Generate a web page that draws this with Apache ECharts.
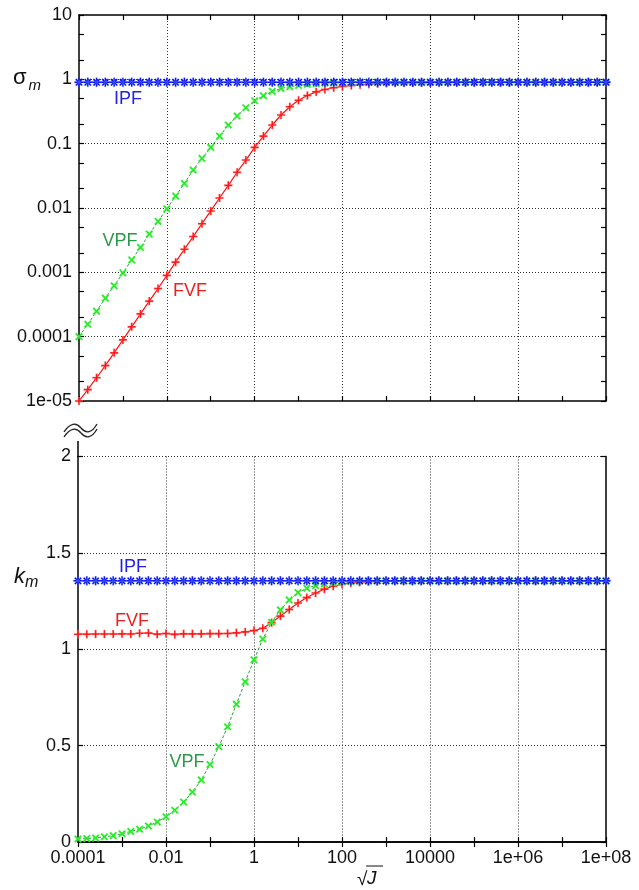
<!DOCTYPE html>
<html>
<head>
<meta charset="utf-8">
<script src="https://cdn.jsdelivr.net/npm/echarts@6/dist/echarts.min.js"></script>
<style>
html,body{margin:0;padding:0;background:#fff;}
#chart{width:639px;height:890px;}
</style>
</head>
<body>
<div id="chart"></div>
<script>
// ---- data ----
const sqrtJ = [1e-4,1.585e-4,2.512e-4,3.981e-4,6.31e-4, 1e-3,1.585e-3,2.512e-3,3.981e-3,6.31e-3,
  0.01,0.01585,0.02512,0.03981,0.0631, 0.1,0.1585,0.2512,0.3981,0.631,
  1,1.585,2.512,3.981,6.31, 10,15.85,25.12,39.81,63.1,
  100,158.5,251.2,398.1,631, 1000,1585,2512,3981,6310,
  1e4,15850,25120,39810,63100, 1e5,158500,251200,398100,631000,
  1e6,1.585e6,2.512e6,3.981e6,6.31e6, 1e7,1.585e7,2.512e7,3.981e7,6.31e7, 1e8];

const sigmaIPF = [0.9,0.9,0.9,0.9,0.9,0.9,0.9,0.9,0.9,0.9, 0.9,0.9,0.9,0.9,0.9,0.9,0.9,0.9,0.9,0.9,
  0.9,0.9,0.9,0.9,0.9,0.9,0.9,0.9,0.9,0.9, 0.9,0.9,0.9,0.9,0.9,0.9,0.9,0.9,0.9,0.9,
  0.9,0.9,0.9,0.9,0.9,0.9,0.9,0.9,0.9,0.9, 0.9,0.9,0.9,0.9,0.9,0.9,0.9,0.9,0.9,0.9, 0.9];

const sigmaVPF = [1.0e-4,1.56e-4,2.49e-4,3.97e-4,6.17e-4, 9.8e-4,1.56e-3,2.44e-3,3.93e-3,6.19e-3,
  9.72e-3,0.0153,0.0241,0.039,0.059, 0.0875,0.131,0.195,0.269,0.362,
  0.465,0.556,0.65,0.72,0.77, 0.805,0.835,0.857,0.872,0.882,
  0.888,0.893,0.896,0.898,0.899, 0.9,0.9,0.9,0.9,0.9,
  0.9,0.9,0.9,0.9,0.9, 0.9,0.9,0.9,0.9,0.9, 0.9,0.9,0.9,0.9,0.9, 0.9,0.9,0.9,0.9,0.9, 0.9];

const sigmaFVF = [1.0e-5,1.5e-5,2.3e-5,3.55e-5,5.6e-5, 8.9e-5,1.42e-4,2.26e-4,3.57e-4,5.6e-4,
  8.97e-4,1.44e-3,2.29e-3,3.6e-3,5.7e-3, 9.0e-3,0.0143,0.0225,0.036,0.0556,
  0.0875,0.131,0.195,0.279,0.375, 0.472,0.56,0.638,0.695,0.74,
  0.775,0.802,0.825,0.842,0.856, 0.867,0.876,0.883,0.888,0.892,
  0.895,0.897,0.898,0.899,0.9, 0.9,0.9,0.9,0.9,0.9, 0.9,0.9,0.9,0.9,0.9, 0.9,0.9,0.9,0.9,0.9, 0.9];

const kIPF = [1.355,1.355,1.355,1.355,1.355,1.355,1.355,1.355,1.355,1.355, 1.355,1.355,1.355,1.355,1.355,1.355,1.355,1.355,1.355,1.355,
  1.355,1.355,1.355,1.355,1.355,1.355,1.355,1.355,1.355,1.355, 1.355,1.355,1.355,1.355,1.355,1.355,1.355,1.355,1.355,1.355,
  1.355,1.355,1.355,1.355,1.355,1.355,1.355,1.355,1.355,1.355, 1.355,1.355,1.355,1.355,1.355,1.355,1.355,1.355,1.355,1.355, 1.355];

const kVPF = [0.0156,0.018,0.021,0.027,0.033, 0.043,0.055,0.066,0.083,0.104,
  0.131,0.165,0.207,0.259,0.322, 0.402,0.495,0.598,0.715,0.831,
  0.945,1.053,1.14,1.204,1.256, 1.294,1.317,1.33,1.339,1.345,
  1.349,1.351,1.353,1.354,1.355, 1.355,1.355,1.355,1.355,1.355,
  1.355,1.355,1.355,1.355,1.355, 1.355,1.355,1.355,1.355,1.355, 1.355,1.355,1.355,1.355,1.355, 1.355,1.355,1.355,1.355,1.355, 1.355];

const kFVF = [1.078,1.078,1.079,1.079,1.079, 1.08,1.079,1.083,1.084,1.078,
  1.082,1.077,1.08,1.08,1.08, 1.081,1.081,1.082,1.085,1.09,
  1.097,1.109,1.138,1.172,1.206, 1.24,1.268,1.292,1.312,1.327,
  1.337,1.344,1.348,1.351,1.352, 1.353,1.354,1.355,1.355,1.355,
  1.355,1.355,1.355,1.355,1.355, 1.355,1.355,1.355,1.355,1.355, 1.355,1.355,1.355,1.355,1.355, 1.355,1.355,1.355,1.355,1.355, 1.355];

const xTickValues = [1e-4,1e-2,1,1e2,1e4,1e6,1e8];
const xTickLabels = ['0.0001','0.01','1','100','10000','1e+06','1e+08'];
const xMinorTickValues = [1e-3,1e-1,1e1,1e3,1e5,1e7];
const sigmaTickValues = [1e-5,1e-4,1e-3,1e-2,1e-1,1,10];
const sigmaTickLabels = ['1e-05','0.0001','0.001','0.01','0.1','1','10'];
const sigmaMinorTickValues = [2e-5,5e-5,2e-4,5e-4,2e-3,5e-3,2e-2,5e-2,0.2,0.5,2,5];
const kTickValues = [0,0.5,1,1.5,2];
const kTickLabels = ['0','0.5','1','1.5','2'];

// ---- helpers ----
function pairs(xs, ys){ return xs.map((x,i)=>[x, ys[i]]); }
function logLabel(values, labels){
  return function(v){
    let best = 0, bd = Infinity;
    values.forEach((t,i)=>{ const d = Math.abs(Math.log10(t) - Math.log10(v)); if (d < bd){bd=d;best=i;} });
    return labels[best];
  };
}
const PLUS = 'path://M4,0H6V4H10V6H6V10H4V6H0V4H4Z';
const STAR = 'path://M0,4.2H10V5.8H0Z M4.2,0H5.8V10H4.2Z M2.07,0.93L9.07,7.93L7.93,9.07L0.93,2.07Z M9.07,2.07L2.07,9.07L0.93,7.93L7.93,0.93Z';

const FONT = 'Liberation Sans, Arial, Helvetica, sans-serif';
const AX = {color:'#000', width:1.5};
const GRIDLINE = {show:true, lineStyle:{color:'#333', type:[1,2], width:1}};
const allX = xTickValues.concat(xMinorTickValues);
const allSigma = sigmaTickValues.concat(sigmaMinorTickValues);

function xAxesFor(gridIndex, withLabels){
  return [
    { type:'log', logBase:10, gridIndex, position:'bottom', min:1e-4, max:1e8,
      axisLine:{show:true, lineStyle:AX},
      axisTick:{show:true, inside:true, length:5, customValues:allX, lineStyle:{color:'#000', width:1.2}},
      axisLabel: withLabels ? {show:true, customValues:xTickValues, formatter:logLabel(xTickValues, xTickLabels),
        color:'#111', fontSize:18, fontFamily:FONT, margin:7} : {show:false},
      splitLine:{show:false} },
    { type:'log', logBase:10, gridIndex, position:'top', min:1e-4, max:1e8,
      axisLine:{show:true, lineStyle:AX},
      axisTick:{show:true, inside:true, length:5, customValues:allX, lineStyle:{color:'#000', width:1.2}},
      axisLabel:{show:false}, splitLine:{show:false} },
    { type:'log', logBase:10, gridIndex, position:'bottom', min:1e-4, max:1e8,
      axisLine:{show:false}, axisTick:{show:false, customValues:xTickValues.slice(1,-1)},
      axisLabel:{show:false}, splitLine:GRIDLINE, z:0 }
  ];
}

function wave(x0, y0){
  return [
    {type:'bezierCurve', shape:{x1:x0, y1:y0, cpx1:x0+6, cpy1:y0-9, cpx2:x0+12, cpy2:y0-10, x2:x0+17, y2:y0-4},
      style:{stroke:'#222', fill:null, lineWidth:1.3}},
    {type:'bezierCurve', shape:{x1:x0+17, y1:y0-4, cpx1:x0+22, cpy1:y0+2, cpx2:x0+28, cpy2:y0+1, x2:x0+33, y2:y0-8},
      style:{stroke:'#222', fill:null, lineWidth:1.3}}
  ];
}

const option = {
  animation:false,
  backgroundColor:'#fff',
  grid:[
    {left:79, right:33, top:15, height:386},
    {left:78, right:33, top:456.5, height:385.5}
  ],
  xAxis: xAxesFor(0,false).concat(xAxesFor(1,true)),
  yAxis:[
    { type:'log', logBase:10, gridIndex:0, position:'left', min:1e-5, max:10,
      axisLine:{show:true, lineStyle:AX},
      axisTick:{show:true, inside:true, length:5, customValues:allSigma, lineStyle:{color:'#000', width:1.2}},
      axisLabel:{show:true, customValues:sigmaTickValues, formatter:logLabel(sigmaTickValues, sigmaTickLabels),
        color:'#111', fontSize:18, fontFamily:FONT, margin:7},
      splitLine:{show:false} },
    { type:'log', logBase:10, gridIndex:0, position:'right', min:1e-5, max:10,
      axisLine:{show:true, lineStyle:AX},
      axisTick:{show:true, inside:true, length:5, customValues:allSigma, lineStyle:{color:'#000', width:1.2}},
      axisLabel:{show:false}, splitLine:{show:false} },
    { type:'log', logBase:10, gridIndex:0, position:'left', min:1e-5, max:10,
      axisLine:{show:false}, axisTick:{show:false, customValues:sigmaTickValues.slice(1,-1)},
      axisLabel:{show:false}, splitLine:GRIDLINE, z:0 },
    { type:'value', gridIndex:1, position:'left', min:0, max:2, interval:0.5,
      axisLine:{show:true, lineStyle:AX},
      axisTick:{show:true, inside:true, length:5, lineStyle:{color:'#000', width:1.2}},
      axisLabel:{show:true, formatter:function(v){ const i = kTickValues.indexOf(v); return i >= 0 ? kTickLabels[i] : String(v); },
        color:'#111', fontSize:18, fontFamily:FONT, margin:7},
      splitLine:GRIDLINE },
    { type:'value', gridIndex:1, position:'right', min:0, max:2, interval:0.5,
      axisLine:{show:true, lineStyle:AX},
      axisTick:{show:true, inside:true, length:5, lineStyle:{color:'#000', width:1.2}},
      axisLabel:{show:false}, splitLine:{show:false} }
  ],
  series:[
    { name:'FVF', type:'line', xAxisIndex:0, yAxisIndex:0, data:pairs(sqrtJ, sigmaFVF),
      symbol:PLUS, symbolSize:8, lineStyle:{color:'#ff1010', width:1.2},
      itemStyle:{color:'#ff1010', borderColor:'rgba(255,140,140,0.5)', borderWidth:0.6}, z:3 },
    { name:'VPF', type:'line', xAxisIndex:0, yAxisIndex:0, data:pairs(sqrtJ, sigmaVPF),
      symbol:PLUS, symbolRotate:45, symbolSize:9, lineStyle:{color:'#2f9a45', width:1, type:[3,2]},
      itemStyle:{color:'#22ee22', borderColor:'rgba(120,240,120,0.5)', borderWidth:0.5}, z:4 },
    { name:'IPF', type:'line', xAxisIndex:0, yAxisIndex:0, data:pairs(sqrtJ, sigmaIPF),
      symbol:STAR, symbolSize:9, lineStyle:{color:'#1030ff', width:1, type:[3,2]},
      itemStyle:{color:'#0000e6', borderColor:'rgba(90,130,255,0.6)', borderWidth:0.5}, z:5 },

    { name:'FVF', type:'line', xAxisIndex:3, yAxisIndex:3, data:pairs(sqrtJ, kFVF),
      symbol:PLUS, symbolSize:8, lineStyle:{color:'#ff1010', width:1.2},
      itemStyle:{color:'#ff1010', borderColor:'rgba(255,140,140,0.5)', borderWidth:0.6}, z:3 },
    { name:'VPF', type:'line', xAxisIndex:3, yAxisIndex:3, data:pairs(sqrtJ, kVPF),
      symbol:PLUS, symbolRotate:45, symbolSize:9, lineStyle:{color:'#2f9a45', width:1, type:[3,2]},
      itemStyle:{color:'#22ee22', borderColor:'rgba(120,240,120,0.5)', borderWidth:0.5}, z:4 },
    { name:'IPF', type:'line', xAxisIndex:3, yAxisIndex:3, data:pairs(sqrtJ, kIPF),
      symbol:STAR, symbolSize:9, lineStyle:{color:'#1030ff', width:1, type:[3,2]},
      itemStyle:{color:'#0000e6', borderColor:'rgba(90,130,255,0.6)', borderWidth:0.5}, z:5 }
  ],
  graphic:[
    // axis titles
    {type:'text', x:13, y:89, style:{text:'σ', font:'22px '+FONT, fill:'#111', textVerticalAlign:'bottom'}},
    {type:'text', x:28.5, y:93, style:{text:'m', font:'italic 15px '+FONT, fill:'#111', textVerticalAlign:'bottom'}},
    {type:'text', x:14, y:588, style:{text:'k', font:'italic 22px '+FONT, fill:'#111', textVerticalAlign:'bottom'}},
    {type:'text', x:25, y:591, style:{text:'m', font:'italic 16px '+FONT, fill:'#111', textVerticalAlign:'bottom'}},
    {type:'text', x:357, y:889, style:{text:'√', font:'19px '+FONT, fill:'#111', textVerticalAlign:'bottom'}},
    {type:'text', x:367, y:888, style:{text:'J', font:'italic 19px '+FONT, fill:'#111', textVerticalAlign:'bottom'}},
    {type:'line', shape:{x1:366, y1:866, x2:383, y2:866}, style:{stroke:'#111', lineWidth:1}},
    // axis break
    {type:'line', shape:{x1:78, y1:441, x2:78, y2:457}, style:{stroke:'#000', lineWidth:1.5}}
  ].concat(wave(64,432), wave(64,437), [
    // curve labels
    {type:'text', x:128, y:99, style:{text:'IPF', font:'18px '+FONT, fill:'#2020e8', textAlign:'center', textVerticalAlign:'middle'}},
    {type:'text', x:120, y:241, style:{text:'VPF', font:'18px '+FONT, fill:'#2a9a48', textAlign:'center', textVerticalAlign:'middle'}},
    {type:'text', x:190, y:291, style:{text:'FVF', font:'18px '+FONT, fill:'#ee2020', textAlign:'center', textVerticalAlign:'middle'}},
    {type:'text', x:133, y:567, style:{text:'IPF', font:'18px '+FONT, fill:'#2020e8', textAlign:'center', textVerticalAlign:'middle'}},
    {type:'text', x:132, y:621, style:{text:'FVF', font:'18px '+FONT, fill:'#ee2020', textAlign:'center', textVerticalAlign:'middle'}},
    {type:'text', x:187, y:762, style:{text:'VPF', font:'18px '+FONT, fill:'#2a9a48', textAlign:'center', textVerticalAlign:'middle'}}
  ])
};

const chart = echarts.init(document.getElementById('chart'), null, {renderer:'canvas'});
chart.setOption(option);
</script>
</body>
</html>
